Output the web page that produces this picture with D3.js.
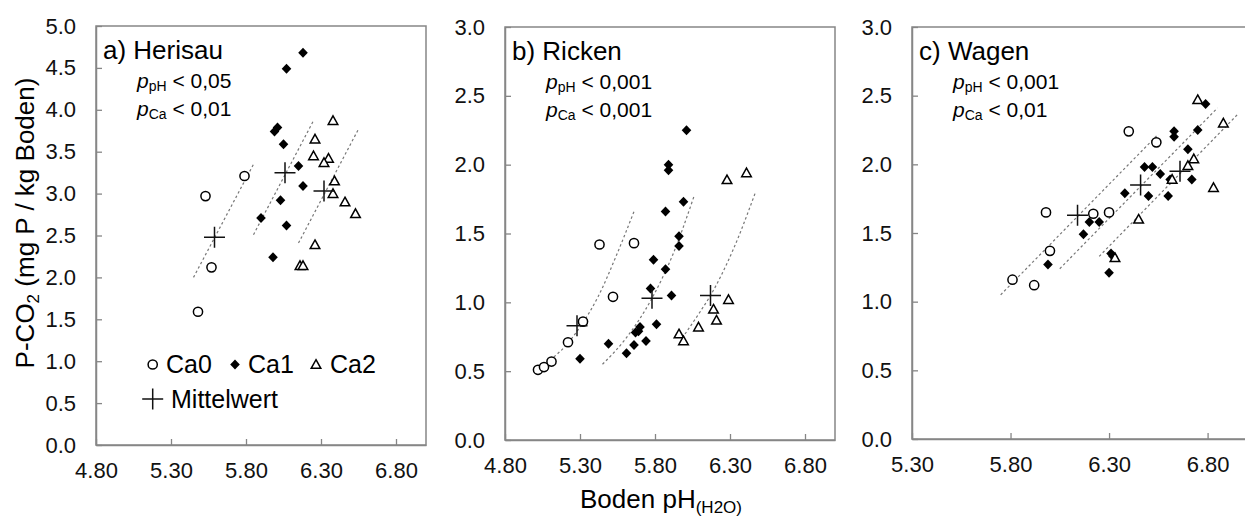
<!DOCTYPE html>
<html>
<head>
<meta charset="utf-8">
<script src="https://cdn.jsdelivr.net/npm/d3@7"></script>
<style>
  body { margin: 0; background: #fff; }
  svg { display: block; font-family: 'Liberation Sans', Arial, sans-serif; }
</style>
</head>
<body>
<div id="chart"></div>
<script>
'use strict';

// a) Herisau  [pH, P-CO2]
const herisauCa0 = [[5.79, 3.21], [5.53, 2.97], [5.57, 2.12], [5.48, 1.59]];
const herisauCa1 = [[6.18, 4.68], [6.07, 4.49], [6.01, 3.79], [5.99, 3.74], [6.05, 3.59], [6.15, 3.33],
  [6.18, 3.09], [6.03, 2.92], [5.90, 2.71], [6.07, 2.62], [5.98, 2.24]];
const herisauCa2 = [[6.38, 3.87], [6.26, 3.65], [6.25, 3.45], [6.35, 3.42], [6.32, 3.37], [6.39, 3.15],
  [6.38, 3.00], [6.46, 2.90], [6.53, 2.76], [6.26, 2.39], [6.16, 2.14], [6.18, 2.14]];
const herisauMeans = [[5.59, 2.48], [6.06, 3.25], [6.32, 3.03]];
const herisauFits = [
  [[5.45, 2.00], [5.85, 3.35]],
  [[5.85, 2.51], [6.25, 3.87]],
  [[6.15, 2.41], [6.55, 3.77]],
];

// b) Ricken
const rickenCa0 = [[5.02, 0.51], [5.06, 0.53], [5.11, 0.57], [5.22, 0.71], [5.32, 0.86], [5.52, 1.04],
  [5.43, 1.42], [5.66, 1.43]];
const rickenCa1 = [[6.01, 2.25], [5.89, 2.00], [5.89, 1.96], [5.99, 1.73], [5.87, 1.66], [5.96, 1.48],
  [5.96, 1.41], [5.79, 1.31], [5.87, 1.24], [5.77, 1.10], [5.91, 1.05], [5.81, 0.84], [5.70, 0.82],
  [5.69, 0.79], [5.67, 0.78], [5.74, 0.72], [5.66, 0.69], [5.49, 0.70], [5.61, 0.63], [5.30, 0.59]];
const rickenCa2 = [[6.28, 1.89], [6.41, 1.94], [6.29, 1.02], [6.19, 0.95], [6.21, 0.87], [6.09, 0.82],
  [5.96, 0.77], [5.99, 0.72]];
const rickenMeans = [[5.28, 0.83], [5.78, 1.03], [6.17, 1.05]];
const rickenFits = [
  [[5.10, 0.58], [5.20, 0.68], [5.30, 0.82], [5.42, 1.04], [5.55, 1.36], [5.66, 1.66]],
  [[5.45, 0.55], [5.60, 0.73], [5.78, 1.03], [5.92, 1.35], [6.06, 1.77]],
  [[6.00, 0.77], [6.10, 0.93], [6.17, 1.05], [6.32, 1.38], [6.47, 1.80]],
];

// c) Wagen
const wagenCa0 = [[6.40, 2.24], [6.54, 2.16], [5.98, 1.65], [6.22, 1.64], [6.30, 1.65], [6.00, 1.37],
  [5.81, 1.16], [5.92, 1.12]];
const wagenCa1 = [[6.79, 2.44], [6.63, 2.24], [6.63, 2.20], [6.75, 2.25], [6.70, 2.11], [6.48, 1.98],
  [6.52, 1.98], [6.56, 1.93], [6.61, 1.89], [6.72, 1.89], [6.38, 1.79], [6.50, 1.77], [6.60, 1.77],
  [6.20, 1.58], [6.25, 1.58], [6.17, 1.49], [5.99, 1.27], [6.31, 1.35], [6.32, 1.33], [6.30, 1.21]];
const wagenCa2 = [[6.75, 2.47], [6.88, 2.30], [6.73, 2.04], [6.70, 1.99], [6.62, 1.89], [6.83, 1.83],
  [6.45, 1.60], [6.33, 1.32]];
const wagenMeans = [[6.14, 1.63], [6.46, 1.85], [6.66, 1.95]];
const wagenFits = [
  [[5.75, 1.05], [6.55, 2.22]],
  [[6.05, 1.24], [6.85, 2.41]],
  [[6.25, 1.33], [6.95, 2.36]],
];

// ticks
const xTicksAB = [4.8, 5.3, 5.8, 6.3, 6.8];
const xTicksC = [5.3, 5.8, 6.3, 6.8];
const yTicksA = [0, 0.5, 1, 1.5, 2, 2.5, 3, 3.5, 4, 4.5, 5];
const yTicksBC = [0, 0.5, 1, 1.5, 2, 2.5, 3];

const panelTitles = ['a) Herisau', 'b) Ricken', 'c) Wagen'];
const pPhValues = ['0,05', '0,001', '0,001'];
const pCaValues = ['0,01', '0,001', '0,01'];
const groupNames = ['Ca0', 'Ca1', 'Ca2'];

const W = 1245;
const H = 518;
const axisColor = '#868686';
const inkColor = '#000';

const panels = [
  {
    box: { left: 96, top: 26, right: 426, bottom: 445 },
    xDomain: [4.8, 7.0], yDomain: [0, 5], xTicks: xTicksAB, yTicks: yTicksA,
    groups: [herisauCa0, herisauCa1, herisauCa2], means: herisauMeans, fits: herisauFits,
    curved: false, legend: true,
  },
  {
    box: { left: 505, top: 27, right: 835, bottom: 440 },
    xDomain: [4.8, 7.0], yDomain: [0, 3], xTicks: xTicksAB, yTicks: yTicksBC,
    groups: [rickenCa0, rickenCa1, rickenCa2], means: rickenMeans, fits: rickenFits,
    curved: true, legend: false,
  },
  {
    box: { left: 912, top: 27, right: 1247, bottom: 439 },
    xDomain: [5.3, 7.0], yDomain: [0, 3], xTicks: xTicksC, yTicks: yTicksBC,
    groups: [wagenCa0, wagenCa1, wagenCa2], means: wagenMeans, fits: wagenFits,
    curved: false, legend: false,
  },
];

// marker shapes
const circlePath = 'M4.6,0A4.6,4.6 0 1,1 -4.6,0A4.6,4.6 0 1,1 4.6,0Z';
const diamondPath = 'M0,-5L4.8,0L0,5L-4.8,0Z';
const trianglePath = 'M0,-4.8L4.8,3.8L-4.8,3.8Z';
const crossPath = 'M-10.5,0H10.5M0,-10.5V10.5';

const markerStyles = [
  { d: circlePath, fill: '#fff', stroke: inkColor, sw: 1.5 },
  { d: diamondPath, fill: inkColor, stroke: 'none', sw: 0 },
  { d: trianglePath, fill: '#fff', stroke: inkColor, sw: 1.5 },
];

const svg = d3
  .select('#chart')
  .append('svg')
  .attr('width', W)
  .attr('height', H)
  .attr('viewBox', '0 0 ' + W + ' ' + H);

svg.append('rect').attr('width', W).attr('height', H).attr('fill', '#fff');

const addPText = (g, x, y, sub, val) => {
  const t = g
    .append('text')
    .attr('x', x)
    .attr('y', y)
    .attr('font-size', 21)
    .attr('fill', inkColor);
  t.append('tspan').attr('font-style', 'italic').text('p');
  t.append('tspan').attr('font-size', 14).attr('dy', 3).text(sub);
  t.append('tspan').attr('dy', -3).text(' < ' + val);
};

const drawPanel = (p, i) => {
  const b = p.box;
  const x = d3.scaleLinear().domain(p.xDomain).range([b.left, b.right]);
  const y = d3.scaleLinear().domain(p.yDomain).range([b.bottom, b.top]);
  const g = svg.append('g').attr('class', 'panel');

  // frame
  g.append('rect')
    .attr('x', b.left)
    .attr('y', b.top)
    .attr('width', b.right - b.left)
    .attr('height', b.bottom - b.top)
    .attr('fill', 'none')
    .attr('stroke', axisColor)
    .attr('stroke-width', 1.5);

  const xAxis = g
    .append('g')
    .attr('transform', 'translate(0,' + b.bottom + ')')
    .call(
      d3.axisBottom(x)
        .tickValues(p.xTicks)
        .tickFormat((d) => d.toFixed(2))
        .tickSizeInner(-6)
        .tickSizeOuter(0)
        .tickPadding(17)
    );

  const yAxis = g
    .append('g')
    .attr('transform', 'translate(' + b.left + ',0)')
    .call(
      d3.axisLeft(y)
        .tickValues(p.yTicks)
        .tickFormat((d) => d.toFixed(1))
        .tickSizeInner(-6)
        .tickSizeOuter(0)
        .tickPadding(20)
    );

  [xAxis, yAxis].forEach((a) => {
    a.select('.domain').attr('stroke', axisColor).attr('stroke-width', 1.5);
    a.selectAll('.tick line').attr('stroke', axisColor).attr('stroke-width', 1.3);
    a.selectAll('.tick text')
      .attr('fill', '#111')
      .attr('font-size', 22)
      .attr('font-family', "'Liberation Sans', Arial, sans-serif");
  });

  // regression lines
  const line = d3
    .line()
    .x((d) => x(d[0]))
    .y((d) => y(d[1]))
    .curve(p.curved ? d3.curveMonotoneX : d3.curveLinear);

  g.selectAll('.fit')
    .data(p.fits)
    .enter()
    .append('path')
    .attr('class', 'fit')
    .attr('d', line)
    .attr('fill', 'none')
    .attr('stroke', '#777')
    .attr('stroke-width', 1.2)
    .attr('stroke-dasharray', '2.5,2.5');

  // points
  p.groups.forEach((data, k) => {
    const m = markerStyles[k];
    g.selectAll('.pt' + k)
      .data(data)
      .enter()
      .append('path')
      .attr('class', 'pt' + k)
      .attr('transform', (d) => 'translate(' + x(d[0]) + ',' + y(d[1]) + ')')
      .attr('d', m.d)
      .attr('fill', m.fill)
      .attr('stroke', m.stroke)
      .attr('stroke-width', m.sw);
  });

  g.selectAll('.mean')
    .data(p.means)
    .enter()
    .append('path')
    .attr('class', 'mean')
    .attr('transform', (d) => 'translate(' + x(d[0]) + ',' + y(d[1]) + ')')
    .attr('d', crossPath)
    .attr('fill', 'none')
    .attr('stroke', '#111')
    .attr('stroke-width', 1.5);

  // texts
  g.append('text')
    .attr('x', b.left + 7)
    .attr('y', b.top + 33)
    .attr('font-size', 26)
    .attr('fill', inkColor)
    .text(panelTitles[i]);

  addPText(g, b.left + 41, b.top + 62, 'pH', pPhValues[i]);
  addPText(g, b.left + 41, b.top + 90, 'Ca', pCaValues[i]);

  if (p.legend) {
    const lg = g.append('g');
    const items = [
      { m: markerStyles[0], x: 152.7, tx: 166, name: groupNames[0] },
      { m: markerStyles[1], x: 235, tx: 248, name: groupNames[1] },
      { m: markerStyles[2], x: 316, tx: 330, name: groupNames[2] },
    ];
    items.forEach((it) => {
      lg.append('path')
        .attr('transform', 'translate(' + it.x + ',364.5)')
        .attr('d', it.m.d)
        .attr('fill', it.m.fill)
        .attr('stroke', it.m.stroke)
        .attr('stroke-width', it.m.sw);
      lg.append('text')
        .attr('x', it.tx)
        .attr('y', 373)
        .attr('font-size', 25)
        .attr('fill', inkColor)
        .text(it.name);
    });
    lg.append('path')
      .attr('transform', 'translate(152.7,399)')
      .attr('d', crossPath)
      .attr('fill', 'none')
      .attr('stroke', '#111')
      .attr('stroke-width', 1.5);
    lg.append('text')
      .attr('x', 171)
      .attr('y', 408)
      .attr('font-size', 25)
      .attr('fill', inkColor)
      .text('Mittelwert');
  }
};

panels.forEach(drawPanel);

// axis titles
const yTitle = svg
  .append('text')
  .attr('transform', 'translate(34,223) rotate(-90)')
  .attr('text-anchor', 'middle')
  .attr('font-size', 26)
  .attr('fill', inkColor);
yTitle.append('tspan').text('P-CO');
yTitle.append('tspan').attr('font-size', 17).attr('dy', 5).text('2');
yTitle.append('tspan').attr('dy', -5).text(' (mg P / kg Boden)');

const xTitle = svg
  .append('text')
  .attr('x', 661)
  .attr('y', 508)
  .attr('text-anchor', 'middle')
  .attr('font-size', 26)
  .attr('fill', inkColor);
xTitle.append('tspan').text('Boden pH');
xTitle.append('tspan').attr('font-size', 17).attr('dy', 5).text('(H2O)');
</script>
</body>
</html>
